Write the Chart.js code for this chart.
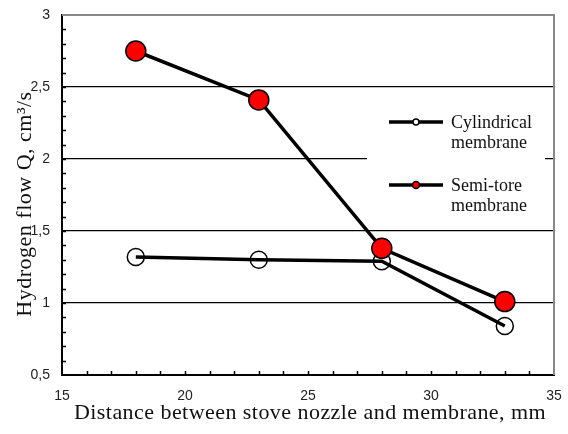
<!DOCTYPE html>
<html>
<head>
<meta charset="utf-8">
<script src="https://cdn.jsdelivr.net/npm/chart.js@4/dist/chart.umd.min.js"></script>
<style>
  body { margin: 0; background: #fff; }
  #chart { display: block; }
</style>
</head>
<body>
<canvas id="chart" width="568" height="434"></canvas>
<script>
// distance between stove nozzle and membrane, mm
const distances = [18, 23, 28, 33];
const cylindricalFlow = [1.32, 1.30, 1.29, 0.84];
const semiToreFlow = [2.75, 2.41, 1.38, 1.01];

const xTickValues = [15, 20, 25, 30, 35];
const yTickLabels = ["0,5", "1", "1,5", "2", "2,5", "3"];
const seriesNames = [["Cylindrical", "membrane"], ["Semi-tore", "membrane"]];
const xTitle = "Distance between stove nozzle and membrane, mm";
const yTitle = "Hydrogen flow Q, cm³/s";

const serif = "'Liberation Serif', 'Times New Roman', serif";
const sans = "'Liberation Sans', Arial, sans-serif";

function toPoints(ys) {
    return distances.map((x, i) => ({ x: x, y: ys[i] }));
}

// frame, inner minor ticks, titles and the boxed legend
const decorations = {
    id: "decorations",
    beforeDatasetsDraw(chart) {
        const { ctx } = chart;
        ctx.save();
        ctx.fillStyle = "#fff";
        ctx.fillRect(367, 100, 178, 125);

        const rows = [
            { y: 122, fill: "#fff", r: 3 },
            { y: 185, fill: "#ff0000", r: 3.5 }
        ];
        rows.forEach((row, i) => {
            ctx.strokeStyle = "#000";
            ctx.lineWidth = 3.5;
            ctx.beginPath();
            ctx.moveTo(389, row.y);
            ctx.lineTo(443, row.y);
            ctx.stroke();
            ctx.beginPath();
            ctx.arc(416, row.y, row.r, 0, Math.PI * 2);
            ctx.fillStyle = row.fill;
            ctx.fill();
            ctx.lineWidth = 1.5;
            ctx.stroke();
            ctx.fillStyle = "#111";
            ctx.font = "18px " + serif;
            ctx.textBaseline = "middle";
            ctx.textAlign = "left";
            ctx.fillText(seriesNames[i][0], 451, row.y + 1);
            ctx.fillText(seriesNames[i][1], 451, row.y + 21);
        });
        ctx.restore();
    },
    afterDraw(chart) {
        const { ctx, chartArea: { left, right, top, bottom }, scales: { x, y } } = chart;
        ctx.save();
        // grey top and right frame
        ctx.strokeStyle = "#888";
        ctx.lineWidth = 2;
        ctx.beginPath();
        ctx.moveTo(left, top);
        ctx.lineTo(right, top);
        ctx.lineTo(right, bottom);
        ctx.stroke();

        // minor ticks pointing inwards
        ctx.strokeStyle = "#000";
        ctx.lineWidth = 1.5;
        ctx.beginPath();
        for (let v = 16; v < 35; v++) {
            const px = Math.round(x.getPixelForValue(v)) + 0.5;
            ctx.moveTo(px, bottom);
            ctx.lineTo(px, bottom - 4);
        }
        for (let k = 6; k < 30; k++) {
            const py = Math.round(y.getPixelForValue(k / 10)) + 0.5;
            ctx.moveTo(left, py);
            ctx.lineTo(left + 4, py);
        }
        ctx.stroke();

        // axis titles
        ctx.fillStyle = "#111";
        ctx.font = "22px " + serif;
        ctx.letterSpacing = "0.45px";
        ctx.textAlign = "center";
        ctx.textBaseline = "alphabetic";
        ctx.fillText(xTitle, 310, 419);

        ctx.letterSpacing = "0.5px";
        ctx.translate(31, 204);
        ctx.rotate(-Math.PI / 2);
        ctx.fillText(yTitle, 0, 0);
        ctx.restore();
    }
};

new Chart(document.getElementById("chart"), {
    type: "line",
    data: {
        datasets: [
            {
                label: "Semi-tore membrane",
                data: toPoints(semiToreFlow),
                order: 0,
                borderColor: "#000",
                borderWidth: 3.5,
                pointRadius: 10,
                pointBackgroundColor: "#ff0000",
                pointBorderColor: "#000",
                pointBorderWidth: 1.5,
                tension: 0
            },
            {
                label: "Cylindrical membrane",
                data: toPoints(cylindricalFlow),
                order: 1,
                borderColor: "#000",
                borderWidth: 3.5,
                pointRadius: 8.5,
                pointBackgroundColor: "rgba(0,0,0,0)",
                pointBorderColor: "#000",
                pointBorderWidth: 1.5,
                tension: 0
            }
        ]
    },
    options: {
        responsive: false,
        animation: false,
        devicePixelRatio: 1,
        layout: { padding: { left: 0, right: 14, top: 15, bottom: 0 } },
        plugins: {
            legend: { display: false },
            tooltip: { enabled: false }
        },
        scales: {
            x: {
                type: "linear",
                min: 15,
                max: 35,
                afterFit(scale) {
                    scale.height = 59;
                    scale.paddingLeft = 0;
                    scale.paddingRight = 0;
                },
                afterBuildTicks(scale) {
                    scale.ticks = xTickValues.map(v => ({ value: v }));
                },
                border: { color: "#000", width: 2 },
                grid: { display: false, drawTicks: false },
                ticks: {
                    padding: 13,
                    color: "#222",
                    font: { family: sans, size: 14 },
                    maxRotation: 0,
                    callback: v => String(v)
                }
            },
            y: {
                type: "linear",
                min: 0.5,
                max: 3,
                afterFit(scale) {
                    scale.width = 62;
                    scale.paddingTop = 0;
                    scale.paddingBottom = 0;
                },
                afterBuildTicks(scale) {
                    scale.ticks = yTickLabels.map((t, i) => ({ value: 0.5 + i * 0.5 }));
                },
                border: { color: "#000", width: 2 },
                grid: {
                    drawTicks: false,
                    lineWidth: 1.2,
                    color: ctx => (ctx.tick && ctx.tick.value > 0.75 && ctx.tick.value < 2.75) ? "#000" : "rgba(0,0,0,0)"
                },
                ticks: {
                    padding: 12,
                    color: "#222",
                    font: { family: sans, size: 14 },
                    callback: (v, i) => yTickLabels[i]
                }
            }
        }
    },
    plugins: [decorations]
});
</script>
</body>
</html>
